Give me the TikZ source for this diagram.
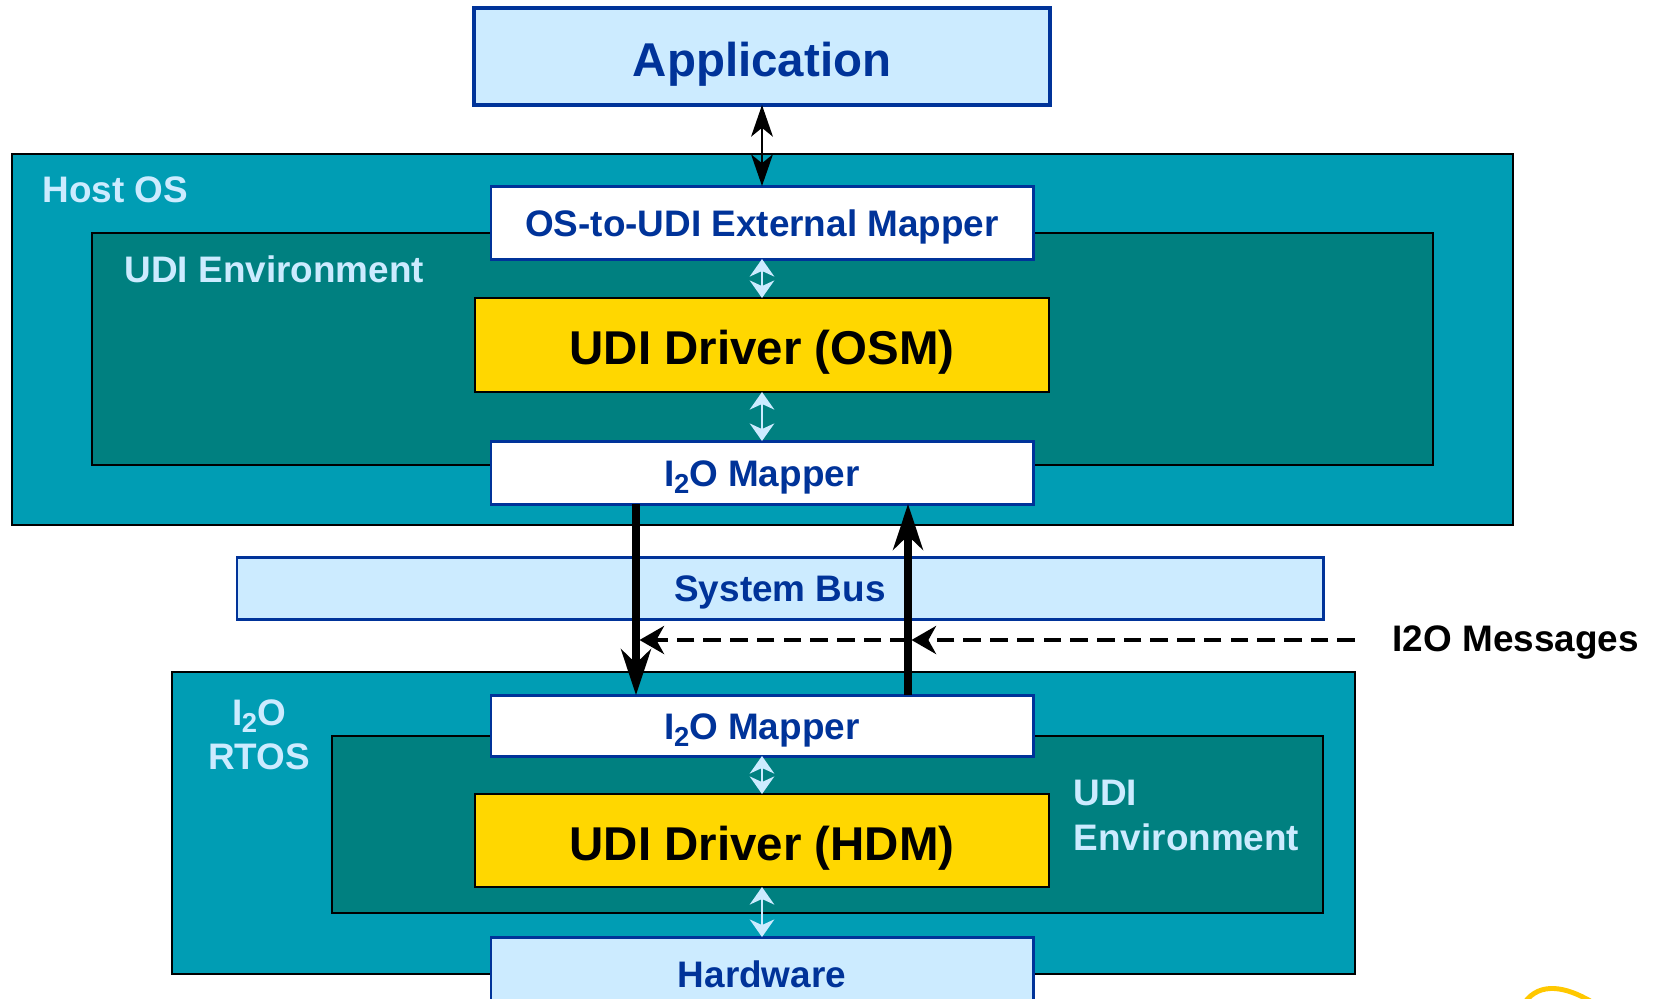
\documentclass[tikz,border=0pt]{standalone}
\usepackage{fontspec}
\setmainfont{Liberation Sans}
\usetikzlibrary{positioning, arrows.meta}

\definecolor{lightblue}{RGB}{204,235,255}
\definecolor{darkblue}{RGB}{0,51,153}
\definecolor{hostteal}{RGB}{0,157,180}
\definecolor{envteal}{RGB}{0,128,128}
\definecolor{udiyellow}{RGB}{255,215,0}
\definecolor{logoyellow}{RGB}{255,200,0}

\newcommand{\boxfont}{\fontsize{10.5}{12.6}\selectfont\bfseries}
\newcommand{\titlefont}{\fontsize{13.5}{16}\selectfont\bfseries}
\newcommand{\IIO}{I\kern-0.02em\raisebox{-0.38ex}{\fontsize{7.8}{8}\selectfont 2}O}

\begin{document}
\begin{tikzpicture}
	% Define styles
	\tikzset{
		area/.style={rectangle, draw=black, line width=0.6pt, outer sep=0pt, inner sep=0pt},
		arealbl/.style={inner sep=0pt, text=lightblue, font=\boxfont},
		bluebox/.style={rectangle, draw=darkblue, fill=lightblue, line width=0.85pt, outer sep=0pt, text=darkblue, font=\boxfont, text height=7.8pt, text depth=0pt},
		mapper/.style={bluebox, fill=white, minimum width=5.42cm},
		driver/.style={rectangle, draw=black, fill=udiyellow, line width=0.6pt, outer sep=0pt, minimum width=5.74cm, minimum height=0.94cm, font=\titlefont, text height=11.2pt, text depth=0pt},
		line/.style={draw, line width=0.6pt, {Stealth[length=9pt, width=6.2pt, inset=2.5pt]}-{Stealth[length=9pt, width=6.2pt, inset=2.5pt]}},
		envline/.style={draw=lightblue, line width=0.6pt, {Stealth[length=5pt, width=7pt, inset=1.6pt]}-{Stealth[length=5pt, width=7pt, inset=1.6pt]}},
		busline/.style={draw, line width=2.1pt, -{Stealth[length=13pt, width=8.5pt, inset=4pt]}},
		msgline/.style={draw, line width=1pt, dash pattern=on 5pt off 2.6pt, -{Stealth[length=7pt, width=8pt, inset=2.2pt]}}
	}
	\clip (0,0) rectangle (16.56,-9.98);
	
	% Host side
	\node[area, fill=hostteal, minimum width=15.01cm, minimum height=3.71cm] (hostos) at (7.625,-3.395) {};
	\node[area, fill=envteal, minimum width=13.41cm, minimum height=2.32cm] (hostenv) at (7.625,-3.49) {};
	\node[arealbl, anchor=west] (hostlbl) at (0.42,-1.90) {Host OS};
	\node[arealbl, anchor=west] (hostenvlbl) at (1.24,-2.69) {UDI Environment};
	
	\node[bluebox, line width=1.1pt, minimum width=5.76cm, minimum height=0.97cm, font=\titlefont, text height=11.2pt] (app) at (7.62,-0.565) {Application};
	\node[mapper, minimum height=0.73cm, below=0.81cm of app] (extmap) {OS-to-UDI External Mapper};
	\node[driver, below=0.39cm of extmap] (osm) {UDI Driver (OSM)};
	\node[mapper, minimum height=0.63cm, below=0.49cm of osm] (hostmap) {\IIO{} Mapper};
	
	% Bus
	\node[bluebox, minimum width=10.86cm, minimum height=0.62cm] (bus) at (7.80,-5.88) {System Bus};
	
	% I2O side
	\node[area, fill=hostteal, minimum width=11.83cm, minimum height=3.02cm] (rtos) at (7.635,-8.23) {};
	\node[area, fill=envteal, minimum width=9.91cm, minimum height=1.77cm] (iopenv) at (8.275,-8.245) {};
	\node[arealbl, align=center] (rtoslbl) at (2.59,-7.35) {\IIO\\RTOS};
	\node[arealbl, align=left, anchor=west] (iopenvlbl) at (10.73,-8.155) {UDI\\Environment};
	
	\node[mapper, minimum height=0.61cm, below=1.91cm of hostmap] (iopmap) {\IIO{} Mapper};
	\node[driver, minimum height=0.93cm, below=0.38cm of iopmap] (hdm) {UDI Driver (HDM)};
	\node[bluebox, minimum width=5.42cm, minimum height=0.74cm, below=0.50cm of hdm] (hw) {Hardware};
	
	\node[anchor=west, inner sep=0pt, font=\boxfont] (msg) at (13.92,-6.43) {I2O Messages};
	
	\coordinate (dnx) at ([xshift=-1.26cm]hostmap.south);
	\coordinate (upx) at ([xshift=1.46cm]hostmap.south);
	\coordinate (msgend) at ([xshift=-0.37cm, yshift=0.03cm]msg.west);
	
	% Arrows
	\draw[line] (app) -- (extmap);
	\draw[envline] (extmap) -- (osm);
	\draw[envline] (osm) -- (hostmap);
	\draw[envline] (iopmap) -- (hdm);
	\draw[envline] (hdm) -- (hw);
	
	\draw[msgline] (msgend) -- ([xshift=0.035cm]msgend -| upx);
	\draw[msgline] (msgend -| upx) -- ([xshift=0.035cm]msgend -| dnx);
	
	\draw[busline] (dnx) -- (dnx |- iopmap.north);
	\draw[busline] (upx |- iopmap.north) -- (upx);
	
	% logo corner
	\draw[logoyellow, line width=1.4pt] (15.25,-10.02) .. controls (15.40,-9.82) and (15.65,-9.86) .. (15.92,-10.02);
\end{tikzpicture}
\end{document}
